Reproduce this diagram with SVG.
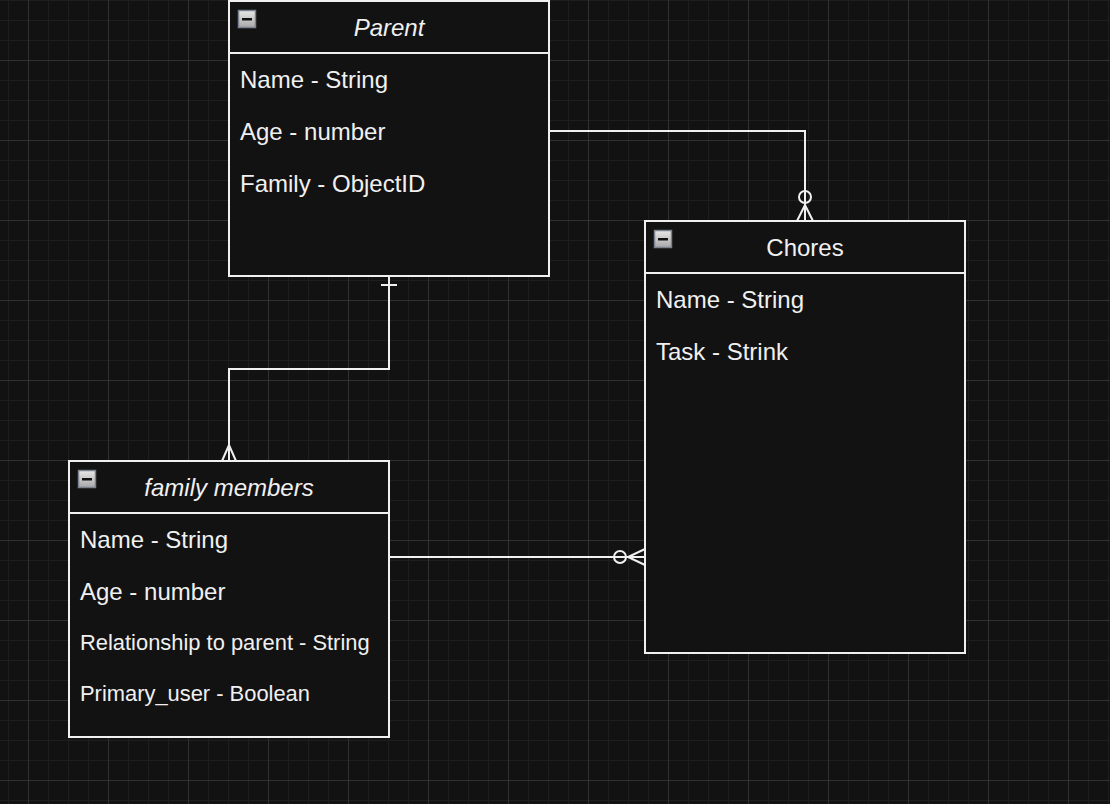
<svg xmlns="http://www.w3.org/2000/svg" width="1110" height="804" viewBox="0 0 1110 804">
<defs>
<pattern id="minor" width="20" height="20" patternUnits="userSpaceOnUse" x="8" y="0">
<path d="M0 0H20M0 0V20" fill="none" stroke="#1e1e1e" stroke-width="2"/>
</pattern>
<pattern id="major" width="80" height="80" patternUnits="userSpaceOnUse" x="28" y="60">
<path d="M0 0H80M0 0V80" fill="none" stroke="#383838" stroke-width="1.5"/>
</pattern>
<linearGradient id="btn" x1="0" y1="0" x2="0" y2="1">
<stop offset="0" stop-color="#e8e8e8"/>
<stop offset="1" stop-color="#a8a8a8"/>
</linearGradient>
<g id="collapse">
<rect x="0.5" y="0.5" width="17" height="17" fill="url(#btn)" stroke="#7a8290" stroke-width="1.5"/>
<rect x="4" y="8" width="10" height="2.5" fill="#111"/>
</g>
</defs>
<style>
.box{fill:#121212;stroke:#f0f0f0;stroke-width:2}
.sep{stroke:#f0f0f0;stroke-width:2}
.t{font-family:"Liberation Sans",Arial,Helvetica,sans-serif;fill:#f0f0f0;font-size:24px}
.s{font-size:21.9px}
.h{text-anchor:middle}
.i{font-style:italic}
.c{fill:none;stroke:#f0f0f0;stroke-width:2}
</style>
<rect width="1110" height="804" fill="#121212"/>
<rect width="1110" height="804" fill="url(#minor)"/>
<rect width="1110" height="804" fill="url(#major)"/>

<g id="connectors">
<path class="c" d="M549 131H805V221"/>
<circle class="c" cx="805" cy="197" r="6" fill="#121212"/>
<path class="c" d="M797 221L805 205L813 221"/>
<path class="c" d="M389 276V369H229V461"/>
<path class="c" d="M381 285H397"/>
<path class="c" d="M222 461L229 445L236 461"/>
<path class="c" d="M389 557H645"/>
<circle class="c" cx="620" cy="557" r="6" fill="#121212"/>
<path class="c" d="M645 549L628 557L645 565"/>
</g>

<g id="parent">
<rect class="box" x="229" y="1" width="320" height="275"/>
<line class="sep" x1="229" y1="53" x2="549" y2="53"/>
<use href="#collapse" x="238" y="10"/>
<text class="t h i" x="389" y="36">Parent</text>
<text class="t" x="240" y="88">Name - String</text>
<text class="t" x="240" y="140">Age - number</text>
<text class="t" x="240" y="192">Family - ObjectID</text>
</g>

<g id="chores">
<rect class="box" x="645" y="221" width="320" height="432"/>
<line class="sep" x1="645" y1="273" x2="965" y2="273"/>
<use href="#collapse" x="654" y="230"/>
<text class="t h" x="805" y="256">Chores</text>
<text class="t" x="656" y="308">Name - String</text>
<text class="t" x="656" y="360">Task - Strink</text>
</g>

<g id="family-members">
<rect class="box" x="69" y="461" width="320" height="276"/>
<line class="sep" x1="69" y1="513" x2="389" y2="513"/>
<use href="#collapse" x="78" y="470"/>
<text class="t h i" x="229" y="496">family members</text>
<text class="t" x="80" y="548">Name - String</text>
<text class="t" x="80" y="600">Age - number</text>
<text class="t s" x="80" y="650">Relationship to parent - String</text>
<text class="t s" x="80" y="701">Primary_user - Boolean</text>
</g>
</svg>
